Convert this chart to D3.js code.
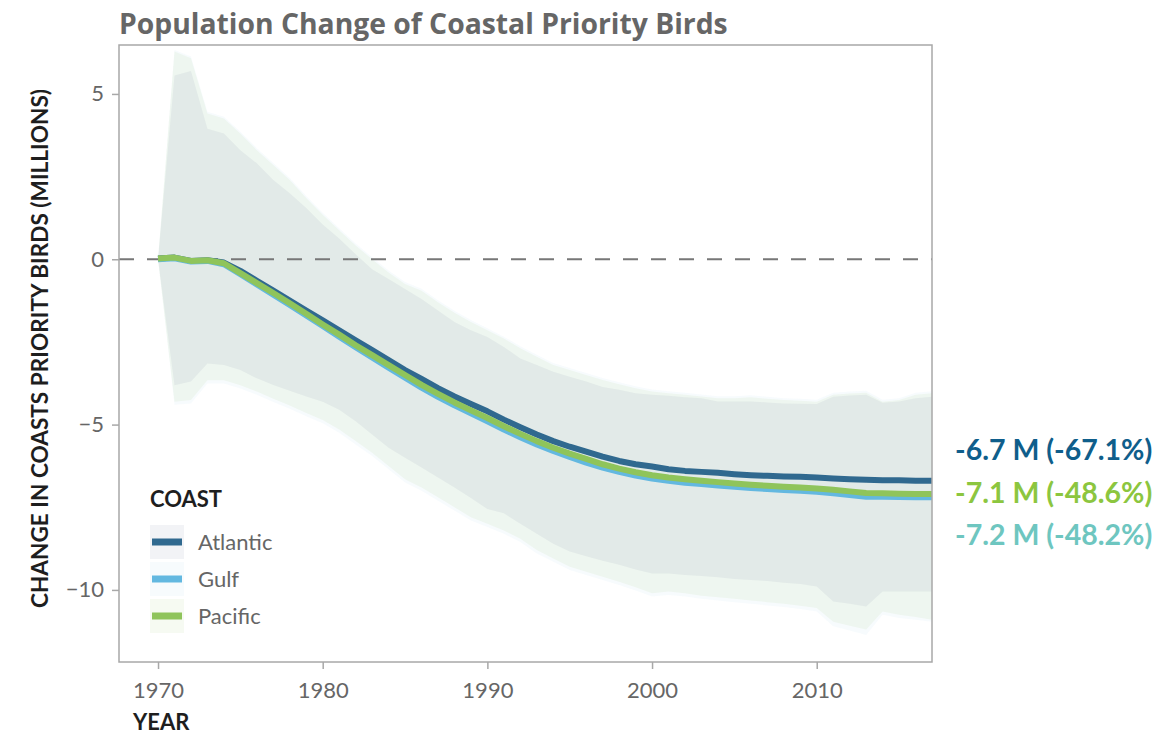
<!DOCTYPE html>
<html>
<head>
<meta charset="utf-8">
<script src="https://cdn.jsdelivr.net/npm/d3@7"></script>
<style>
  body { margin: 0; background: #fff; }
  text { font-family: Lato, "Open Sans", sans-serif; }
</style>
</head>
<body>
<div id="chart"></div>
<script>
// years on the x axis
var years = [1970, 1971, 1972, 1973, 1974, 1975, 1976, 1977, 1978, 1979,
  1980, 1981, 1982, 1983, 1984, 1985, 1986, 1987, 1988, 1989,
  1990, 1991, 1992, 1993, 1994, 1995, 1996, 1997, 1998, 1999,
  2000, 2001, 2002, 2003, 2004, 2005, 2006, 2007, 2008, 2009,
  2010, 2011, 2012, 2013, 2014, 2015, 2016, 2017];

// change in millions, one value per year
var atlantic = [0.02, 0.05, -0.05, -0.03, -0.1, -0.35, -0.65, -0.95, -1.25, -1.55,
  -1.85, -2.15, -2.45, -2.75, -3.05, -3.35, -3.62, -3.9, -4.15, -4.38,
  -4.6, -4.85, -5.08, -5.3, -5.5, -5.67, -5.82, -5.97, -6.1, -6.2,
  -6.27, -6.35, -6.4, -6.43, -6.46, -6.5, -6.53, -6.55, -6.57, -6.58,
  -6.6, -6.63, -6.65, -6.67, -6.68, -6.68, -6.7, -6.7];
var gulf = [0, 0.03, -0.07, -0.05, -0.15, -0.45, -0.76, -1.07, -1.38, -1.7,
  -2.02, -2.34, -2.66, -2.97, -3.28, -3.58, -3.88, -4.16, -4.42, -4.66,
  -4.9, -5.15, -5.38, -5.6, -5.8, -5.98, -6.15, -6.3, -6.43, -6.54,
  -6.63, -6.7, -6.76, -6.8, -6.84, -6.88, -6.92, -6.95, -6.98, -7.0,
  -7.03, -7.08, -7.13, -7.18, -7.18, -7.19, -7.2, -7.2];
var pacific = [0.02, 0.05, -0.05, -0.03, -0.12, -0.42, -0.72, -1.02, -1.33, -1.65,
  -1.97, -2.28, -2.6, -2.9, -3.2, -3.5, -3.8, -4.07, -4.33, -4.57,
  -4.8, -5.05, -5.28, -5.5, -5.7, -5.88, -6.04, -6.2, -6.33, -6.44,
  -6.53, -6.6, -6.65, -6.7, -6.74, -6.78, -6.82, -6.85, -6.88, -6.9,
  -6.93, -6.97, -7.02, -7.07, -7.08, -7.09, -7.1, -7.1];

// uncertainty bands (upper / lower)
var atlanticHigh = [0, 5.56, 5.69, 3.95, 3.8, 3.3, 2.9, 2.4, 2.0, 1.55,
  1.05, 0.63, 0.15, -0.3, -0.6, -0.9, -1.2, -1.55, -1.9, -2.15,
  -2.35, -2.65, -3.0, -3.2, -3.4, -3.55, -3.7, -3.86, -3.95, -4.05,
  -4.1, -4.13, -4.17, -4.2, -4.3, -4.3, -4.3, -4.33, -4.36, -4.37,
  -4.38, -4.16, -4.12, -4.1, -4.34, -4.3, -4.2, -4.16];
var atlanticLow = [0, -3.81, -3.7, -3.15, -3.2, -3.35, -3.6, -3.8, -3.98, -4.15,
  -4.31, -4.55, -4.9, -5.3, -5.7, -6.0, -6.3, -6.6, -6.9, -7.22,
  -7.55, -7.68, -8.0, -8.3, -8.6, -8.84, -8.98, -9.12, -9.24, -9.38,
  -9.5, -9.5, -9.55, -9.58, -9.62, -9.67, -9.7, -9.73, -9.78, -9.82,
  -9.9, -10.35, -10.42, -10.5, -10.05, -10.05, -10.05, -10.05];
var gulfHigh = [0, 6.33, 6.13, 4.46, 4.31, 3.86, 3.36, 2.91, 2.46, 1.91,
  1.41, 0.94, 0.48, 0.06, -0.34, -0.69, -0.89, -1.24, -1.56, -1.84,
  -2.09, -2.34, -2.63, -2.89, -3.14, -3.29, -3.44, -3.59, -3.72, -3.84,
  -3.94, -3.99, -4.04, -4.09, -4.14, -4.14, -4.11, -4.16, -4.2, -4.22,
  -4.25, -4.04, -4.0, -3.98, -4.25, -4.2, -4.04, -3.99];
var gulfLow = [0, -4.4, -4.36, -3.76, -3.76, -3.91, -4.1, -4.32, -4.52, -4.75,
  -4.96, -5.25, -5.6, -5.95, -6.35, -6.75, -7.0, -7.3, -7.6, -7.9,
  -8.1, -8.3, -8.55, -8.9, -9.15, -9.4, -9.55, -9.7, -9.85, -10.02,
  -10.2, -10.15, -10.2, -10.27, -10.32, -10.37, -10.42, -10.47, -10.52, -10.58,
  -10.65, -11.1, -11.23, -11.36, -10.75, -10.85, -10.9, -10.96];
var pacificHigh = [0, 6.28, 6.08, 4.41, 4.26, 3.8, 3.3, 2.85, 2.4, 1.85,
  1.35, 0.88, 0.42, 0.0, -0.4, -0.75, -0.95, -1.3, -1.62, -1.9,
  -2.15, -2.4, -2.69, -2.95, -3.2, -3.35, -3.5, -3.65, -3.78, -3.9,
  -4.0, -4.05, -4.1, -4.15, -4.2, -4.2, -4.17, -4.22, -4.26, -4.28,
  -4.31, -4.1, -4.06, -4.04, -4.31, -4.26, -4.1, -4.05];
var pacificLow = [0, -4.31, -4.26, -3.66, -3.66, -3.81, -4.0, -4.22, -4.42, -4.65,
  -4.86, -5.15, -5.5, -5.85, -6.25, -6.65, -6.9, -7.2, -7.5, -7.8,
  -8.0, -8.2, -8.45, -8.79, -9.05, -9.3, -9.45, -9.6, -9.75, -9.92,
  -10.1, -10.05, -10.1, -10.18, -10.22, -10.27, -10.32, -10.37, -10.42, -10.48,
  -10.55, -10.96, -11.08, -11.2, -10.65, -10.75, -10.82, -10.9];

var coasts = ["Atlantic", "Gulf", "Pacific"];
var endLabels = ["-6.7 M (-67.1%)", "-7.1 M (-48.6%)", "-7.2 M (-48.2%)"];
var xTicks = [1970, 1980, 1990, 2000, 2010];
var yTicks = [5, 0, -5, -10];

var lineColors = { Atlantic: "#30698f", Gulf: "#63b8e0", Pacific: "#8fc45b" };
var bandColors = { Atlantic: "#5f6a86", Gulf: "#6fb9e4", Pacific: "#9acb6e" };
var bandOpacity = { Atlantic: 0.08, Gulf: 0.06, Pacific: 0.09 };
var labelColors = ["#0f5e8b", "#8cc63f", "#6ec6c0"];

var series = [
  { name: "Atlantic", values: atlantic, hi: atlanticHigh, lo: atlanticLow },
  { name: "Gulf", values: gulf, hi: gulfHigh, lo: gulfLow },
  { name: "Pacific", values: pacific, hi: pacificHigh, lo: pacificLow }
];

var winWidth = 1162, winHeight = 735;
var plot = { left: 119, top: 45, right: 932, bottom: 662 };

const svg = d3.select("#chart")
  .append("svg")
  .attr("width", winWidth)
  .attr("height", winHeight);

var x = d3.scaleLinear().domain([1967.63, 2017]).range([plot.left, plot.right]);
var y = d3.scaleLinear().domain([-12.18, 6.48]).range([plot.bottom, plot.top]);

// title
svg.append("text")
  .attr("x", 119).attr("y", 34)
  .attr("font-size", 28.3).attr("font-weight", 700)
  .attr("fill", "#666")
  .style("font-family", "'Open Sans', sans-serif")
  .text("Population Change of Coastal Priority Birds");

// bands first, gulf at the bottom
var area = d3.area()
  .x((d, i) => x(years[i]))
  .y0((d, i) => y(d.lo))
  .y1((d, i) => y(d.hi));

["Gulf", "Pacific", "Atlantic"].forEach(function (name) {
  var s = series.find(d => d.name == name);
  var pts = s.hi.map((h, i) => ({ hi: h, lo: s.lo[i] }));
  svg.append("path")
    .datum(pts)
    .attr("d", area)
    .attr("fill", bandColors[name])
    .attr("fill-opacity", bandOpacity[name]);
});

// zero line
svg.append("line")
  .attr("x1", plot.left).attr("x2", plot.right)
  .attr("y1", y(0)).attr("y2", y(0))
  .attr("stroke", "#777").attr("stroke-width", 2)
  .attr("stroke-dasharray", "15,13");

// lines
var line = d3.line()
  .x((d, i) => x(years[i]))
  .y(d => y(d));

series.forEach(function (s) {
  svg.append("path")
    .datum(s.values)
    .attr("d", line)
    .attr("fill", "none")
    .attr("stroke", lineColors[s.name])
    .attr("stroke-width", 6)
    .attr("stroke-linejoin", "round");
});

// frame
svg.append("rect")
  .attr("x", plot.left).attr("y", plot.top)
  .attr("width", plot.right - plot.left)
  .attr("height", plot.bottom - plot.top)
  .attr("fill", "none")
  .attr("stroke", "#a8a8a8").attr("stroke-width", 1.5);

// axes
var xAxis = svg.append("g")
  .attr("transform", "translate(0," + plot.bottom + ")")
  .call(d3.axisBottom(x).tickValues(xTicks).tickFormat(d3.format("d")).tickSize(7).tickPadding(8));
var yAxis = svg.append("g")
  .attr("transform", "translate(" + plot.left + ",0)")
  .call(d3.axisLeft(y).tickValues(yTicks).tickSize(7).tickPadding(8));

[xAxis, yAxis].forEach(function (g) {
  g.select(".domain").remove();
  g.selectAll(".tick line").attr("stroke", "#a8a8a8").attr("stroke-width", 1.5);
  g.selectAll(".tick text")
    .attr("fill", "#666")
    .attr("font-size", 22)
    .attr("font-weight", 400)
    .style("font-family", "Lato, 'Open Sans', sans-serif");
});
xAxis.selectAll(".tick text").attr("dy", "0.95em");

// axis titles
svg.append("text")
  .attr("x", 133).attr("y", 730)
  .attr("font-size", 22).attr("font-weight", 700)
  .attr("fill", "#1e1e1e")
  .text("YEAR");

svg.append("text")
  .attr("transform", "translate(48," + ((plot.top + plot.bottom) / 2 - 5) + ") rotate(-90)")
  .attr("text-anchor", "middle")
  .attr("font-size", 22.6).attr("font-weight", 700)
  .attr("fill", "#1e1e1e")
  .text("CHANGE IN COASTS PRIORITY BIRDS (MILLIONS)");

// end labels
svg.selectAll(".end-label")
  .data(endLabels)
  .enter()
  .append("text")
  .attr("class", "end-label")
  .attr("x", 955)
  .attr("y", (d, i) => 460 + i * 42.5)
  .attr("font-size", 28.5).attr("font-weight", 700)
  .attr("fill", (d, i) => labelColors[i])
  .text(d => d);

// legend
var legend = svg.append("g").attr("transform", "translate(150,507)");
legend.append("text")
  .attr("x", 0).attr("y", 0)
  .attr("font-size", 22).attr("font-weight", 700)
  .attr("fill", "#1e1e1e")
  .text("COAST");

var item = legend.selectAll(".item")
  .data(coasts)
  .enter()
  .append("g")
  .attr("class", "item")
  .attr("transform", (d, i) => "translate(0," + (18 + i * 37) + ")");

item.append("rect")
  .attr("width", 34).attr("height", 34)
  .attr("fill", d => bandColors[d])
  .attr("fill-opacity", d => bandOpacity[d]);
item.append("line")
  .attr("x1", 2).attr("x2", 32)
  .attr("y1", 17).attr("y2", 17)
  .attr("stroke", d => lineColors[d])
  .attr("stroke-width", 7);
item.append("text")
  .attr("x", 48).attr("y", 25)
  .attr("font-size", 22)
  .attr("fill", "#666")
  .text(d => d);
</script>
</body>
</html>
